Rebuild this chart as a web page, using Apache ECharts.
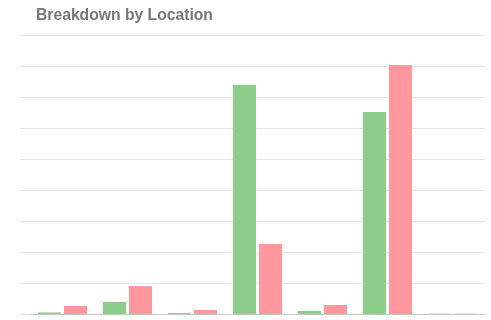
<!DOCTYPE html>
<html>
<head>
<meta charset="utf-8">
<script src="https://cdn.jsdelivr.net/npm/echarts@6/dist/echarts.min.js"></script>
<style>
  html, body { margin: 0; padding: 0; background: #fff; }
  #chart { width: 491px; height: 320px; }
</style>
</head>
<body>
<div id="chart"></div>
<script>
// values (axis labels are hidden in the reference)
const locations = ['Location 1', 'Location 2', 'Location 3', 'Location 4', 'Location 5', 'Location 6', 'Location 7']
const greenValues = [0.5, 3.9, 0.3, 73.9, 1.0, 65.2, 0.1]
const pinkValues = [2.6, 9.0, 1.3, 22.6, 2.9, 80.3, 0.1]
const yTicks = [0, 10, 20, 30, 40, 50, 60, 70, 80, 90]

const myChart = echarts.init(document.getElementById('chart'))
window.addEventListener('resize', () => {
  myChart.resize()
})

const option = {
  animation: false,
  title: {
    text: 'Breakdown by Location',
    left: 31,
    top: 3,
    textStyle: {
      fontFamily: 'Liberation Sans, Arial, sans-serif',
      fontSize: 15.7,
      fontWeight: 'bold',
      color: '#777777',
    },
  },
  grid: {
    left: 30,
    right: 6,
    top: 35,
    bottom: 6,
  },
  xAxis: {
    type: 'category',
    data: locations,
    axisLine: { lineStyle: { color: '#c8c8c8' } },
    axisTick: { show: false },
    axisLabel: { show: false },
  },
  yAxis: {
    type: 'value',
    min: yTicks[0],
    max: yTicks[yTicks.length - 1],
    interval: 10,
    axisLine: { show: false },
    axisTick: { show: true, length: 10, lineStyle: { color: '#e6e6e6' } },
    axisLabel: { show: false },
    splitLine: { lineStyle: { color: '#e6e6e6' } },
  },
  series: [
    {
      name: 'Green',
      type: 'bar',
      data: greenValues,
      barWidth: 23,
      barGap: '13%',
      itemStyle: { color: '#8dcd8c' },
    },
    {
      name: 'Pink',
      type: 'bar',
      data: pinkValues,
      barWidth: 23,
      itemStyle: { color: '#ff979f' },
    },
  ],
}

myChart.setOption(option, true)
</script>
</body>
</html>
